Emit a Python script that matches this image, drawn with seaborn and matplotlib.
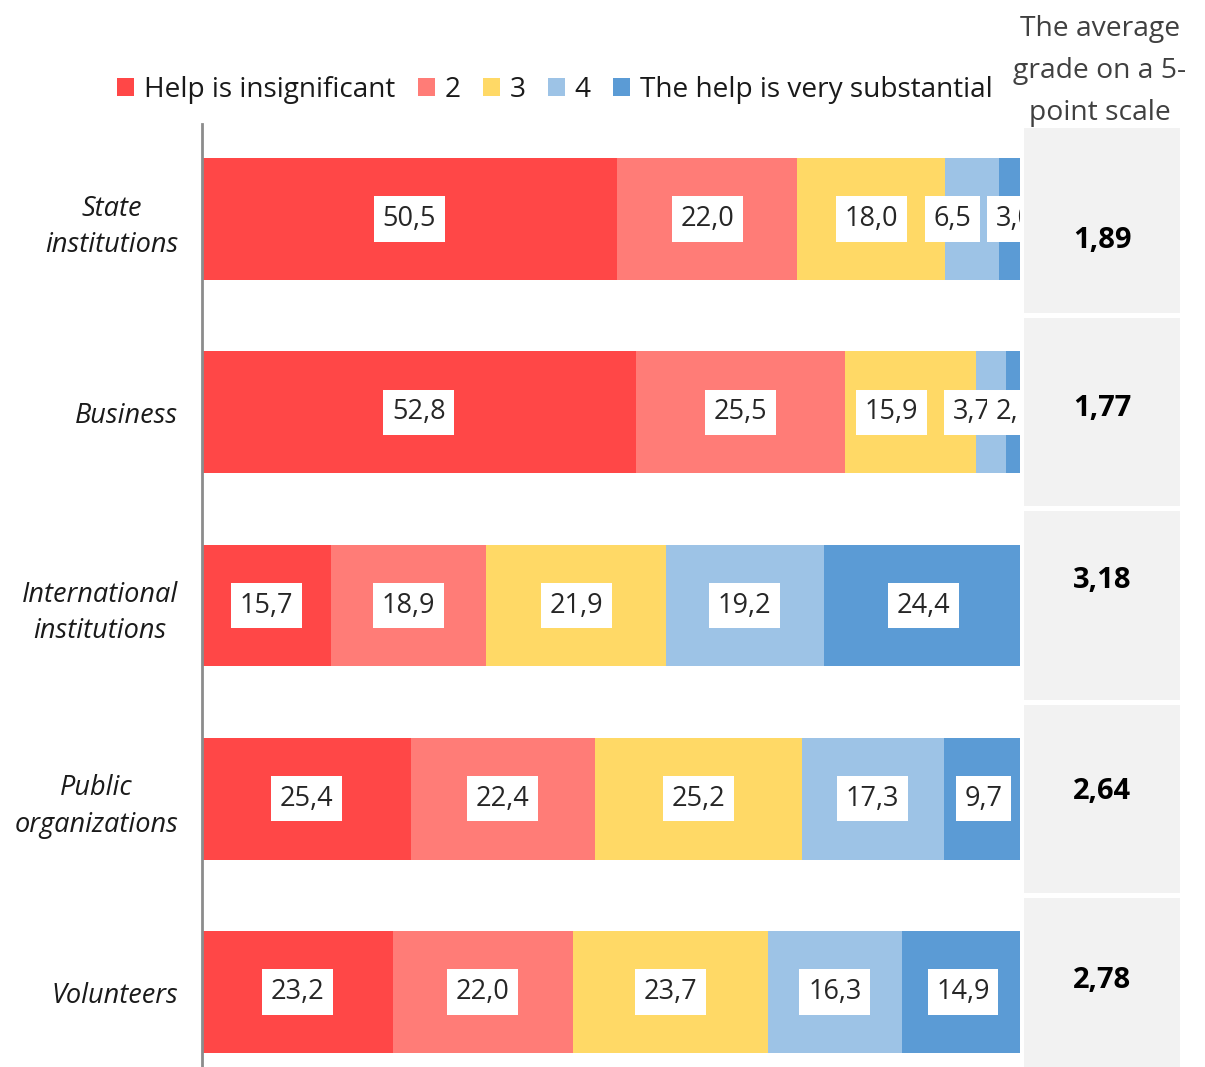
import matplotlib
matplotlib.use("Agg")
import matplotlib.pyplot as plt
import seaborn as sns
import pandas as pd
import numpy as np
from matplotlib.patches import Patch, Rectangle

# Survey: how substantial was the help from each source (shares, %)
categories = ["State\ninstitutions", "Business", "International\ninstitutions",
              "Public\norganizations", "Volunteers"]
levels = ["Help is insignificant", "2", "3", "4", "The help is very substantial"]
insignificant = [50.5, 52.8, 15.7, 25.4, 23.2]
level_2 = [22.0, 25.5, 18.9, 22.4, 22.0]
level_3 = [18.0, 15.9, 21.9, 25.2, 23.7]
level_4 = [6.5, 3.7, 19.2, 17.3, 16.3]
very_substantial = [3.0, 2.1, 24.4, 9.7, 14.9]
average_grade = [1.89, 1.77, 3.18, 2.64, 2.78]
grade_header = "The average\ngrade on a 5-\npoint scale"

colors = ["#FF4747", "#FF7C77", "#FFD966", "#9DC3E6", "#5B9BD5"]


def comma(v, digits):
    return f"{v:.{digits}f}".replace(".", ",")


sns.set_theme(style="white")
plt.rcParams["font.family"] = ["Open Sans", "DejaVu Sans"]

W, H = 1205, 1067
fig = plt.figure(figsize=(W / 100, H / 100), dpi=100)
ax = fig.add_axes([202 / W, 0, (1020 - 202) / W, (1067 - 124) / H])

series = [insignificant, level_2, level_3, level_4, very_substantial]
cum = np.cumsum(np.array(series), axis=0)
df = pd.DataFrame({"category": categories})

# stacked bars: draw cumulative totals from the longest down so each level shows
for j in reversed(range(len(series))):
    df["total"] = cum[j]
    sns.barplot(data=df, x="total", y="category", color=colors[j], saturation=1,
                width=0.63, orient="h", errorbar=None, linewidth=0, ax=ax)

ax.set_xlim(0, 99.6)
ax.set_ylim(4.388, -0.492)
ax.set_xticks([])
ax.set_xlabel("")
ax.set_ylabel("")
for side in ("top", "right", "bottom"):
    ax.spines[side].set_visible(False)
ax.spines["left"].set_color("#8C8C8C")
ax.spines["left"].set_linewidth(2)
ax.tick_params(axis="y", length=0, pad=17, labelsize=19.5, labelcolor="#1A1A1A")
for t in ax.get_yticklabels():
    t.set_fontstyle("italic")
    t.set_multialignment("center")
    t.set_linespacing(1.4)

# value labels in white boxes; a few crowded ones nudged aside
nudge = {(0, 3): -2.4, (0, 4): 0.5, (1, 2): -2.3, (1, 3): -2.3}
for j in range(len(series)):
    for i in range(len(categories)):
        v = series[j][i]
        xc = cum[j][i] - v / 2 + nudge.get((i, j), 0)
        ax.text(xc, i, comma(v, 1), ha="center", va="center", fontsize=19.5,
                color="#262626", clip_on=True,
                bbox=dict(boxstyle="square,pad=0.32", fc="white", ec="none"))

# average grade column
ax2 = fig.add_axes([1024 / W, 0, (1180 - 1024) / W, (1067 - 124) / H])
ax2.set_xlim(0, 1)
ax2.set_ylim(4.388, -0.492)
ax2.axis("off")
gap = 0.013
grade_offset = [0.11, -0.02, -0.13, -0.04, -0.06]
for i, g in enumerate(average_grade):
    top = max(i - 0.5 + gap, -0.472)
    bottom = i + 0.5 - gap
    ax2.add_patch(Rectangle((0, top), 1, bottom - top, fc="#F2F2F2", ec="none"))
    ax2.text(0.5, i + grade_offset[i], comma(g, 2), ha="center", va="center",
             fontsize=21, fontweight="bold", color="black")

fig.text(1100 / W, 1 - 71 / H, grade_header, ha="center", va="center",
         fontsize=20.3, color="#404040", linespacing=1.68)

handles = [Patch(fc=c, ec="none") for c in colors]
fig.legend(handles, levels, loc="center", bbox_to_anchor=(555 / W, 1 - 90 / H),
           ncol=5, frameon=False, fontsize=20.2, handlelength=0.6,
           handleheight=0.6, handletextpad=0.35, columnspacing=0.8,
           borderaxespad=0, labelcolor="#1A1A1A")

fig.savefig("out.png", dpi=100)
